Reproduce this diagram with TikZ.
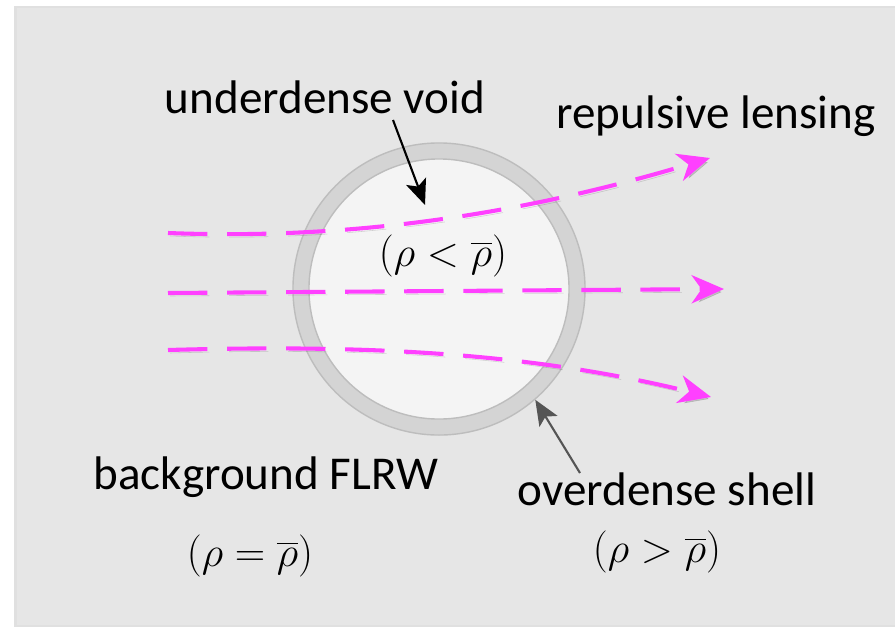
\RequirePackage{fix-cm}
\documentclass[tikz,border=0pt]{standalone}
\usepackage{amsmath}
\usepackage{fontspec}
\setmainfont{Carlito}
\usepackage{tikz}
\usetikzlibrary{arrows.meta, positioning}

\definecolor{panelgray}{HTML}{E6E6E6}
\definecolor{ringgray}{HTML}{D4D4D4}
\definecolor{ringedge}{HTML}{BDBDBD}
\definecolor{voidwhite}{HTML}{F4F4F4}
\definecolor{raymag}{HTML}{FF40FF}
\definecolor{pointgray}{HTML}{555555}

\begin{document}
\begin{tikzpicture}[
  x=0.025cm, y=-0.025cm,
  lbl/.style={font=\fontsize{33.5}{40}\selectfont, inner sep=0pt},
  dens/.style={font=\fontsize{30}{36}\selectfont, inner sep=0pt},
  ray/.style={raymag, line width=2.9pt, dash pattern=on 28pt off 14pt,
    -{Stealth[length=23pt, width=20pt, inset=7pt]},
    preaction={draw=black, opacity=0.15, dash pattern=on 28pt off 14pt,
      transform canvas={shift={(2,3)}}}},
  pointer/.style={line width=1.5pt, -{Stealth[length=18pt, width=15pt, inset=4pt]}},
]

%% Panel
\useasboundingbox (0,0) rectangle (895,627);
\fill[white] (0,0) rectangle (895,627);
\fill[black!12] (14,6) rectangle (895,627);
\fill[panelgray] (17,8) rectangle (895,625);

%% Void and shell
\node[circle, minimum size=7.3cm, fill=ringgray, draw=ringedge, line width=1pt] (shell) at (439,289) {};
\node[circle, minimum size=6.5cm, fill=voidwhite, draw=ringedge, line width=1pt] (void) at (439,289) {};

%% Light rays
\coordinate (r1a) at (168,233);
\coordinate (r1b) at (710,158);
\coordinate (r2a) at (168,293);
\coordinate (r2b) at (724,289);
\coordinate (r3a) at (168,350);
\coordinate (r3b) at (711,397);
\draw[ray] (r1a) .. controls (350,240) and (520,215) .. (r1b);
\draw[ray] (r2a) -- (r2b);
\draw[ray] (r3a) .. controls (350,345) and (520,350) .. (r3b);

%% Labels
\node[lbl] (uvoid) at (325,97) {underdense void};
\node[lbl] (rlens) at (716,116) {repulsive lensing};
\node[dens] (rvoid) at (443,256) {$(\rho < \overline{\rho})$};
\node[lbl] (bflrw) at (266,477) {background FLRW};
\node[dens] (rflrw) at (250,556) {$(\rho = \overline{\rho})$};
\node[lbl] (oshell) at (667,489) {overdense shell};
\node[dens] (rshell) at (657,552) {$(\rho > \overline{\rho})$};

%% Pointers
\coordinate (uvoidtail) at (393,120);
\coordinate (uvoidtip) at (425,205);
\coordinate (oshelltail) at (580,473);
\draw[pointer, black] (uvoidtail) -- (uvoidtip);
\draw[pointer, pointgray] (oshelltail) -- (shell.-49);

\end{tikzpicture}
\end{document}
